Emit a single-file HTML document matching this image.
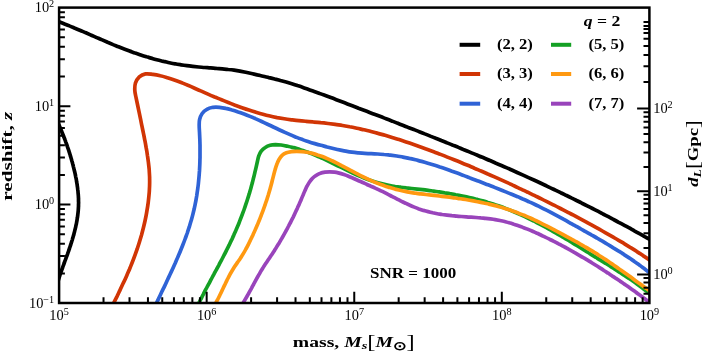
<!DOCTYPE html>
<html><head><meta charset="utf-8"><title>chart</title>
<style>html,body{margin:0;padding:0;background:#fff;}body{width:703px;height:352px;overflow:hidden;font-family:"Liberation Serif",serif;}svg{display:block;will-change:transform;}</style></head>
<body>
<svg width="703" height="352" viewBox="0 0 703 352">
<rect x="0" y="0" width="703" height="352" fill="#ffffff"/>
<defs><clipPath id="ax"><rect x="59.10" y="7.60" width="590.30" height="295.40"/></clipPath></defs>
<g clip-path="url(#ax)" fill="none" stroke-linecap="butt" stroke-linejoin="round">
<path d="M52.9,19.5C53.9,19.8 56.6,20.8 58.5,21.5C60.3,22.2 62.2,22.9 64.0,23.7C65.8,24.4 67.7,25.1 69.5,25.9C71.3,26.6 73.1,27.4 75.0,28.2C76.8,28.9 78.6,29.7 80.4,30.5C82.2,31.3 84.1,32.0 85.9,32.8C87.7,33.6 89.5,34.4 91.3,35.2C93.1,36.0 94.9,36.8 96.7,37.6C98.6,38.4 100.4,39.2 102.2,39.9C104.0,40.7 105.8,41.5 107.6,42.3C109.5,43.0 111.3,43.8 113.1,44.6C114.9,45.3 116.8,46.1 118.6,46.8C120.4,47.6 122.3,48.3 124.1,49.0C125.9,49.7 127.8,50.4 129.6,51.1C131.5,51.8 133.4,52.4 135.2,53.1C137.1,53.7 139.0,54.4 140.8,55.0C142.7,55.6 144.6,56.2 146.5,56.8C148.4,57.3 150.3,57.9 152.2,58.4C154.1,59.0 156.0,59.5 157.9,60.0C159.8,60.5 161.7,60.9 163.6,61.4C165.5,61.8 167.5,62.3 169.4,62.7C171.3,63.1 173.2,63.5 175.2,63.8C177.1,64.2 179.1,64.5 181.0,64.8C183.0,65.1 184.9,65.4 186.9,65.7C188.8,66.0 190.8,66.2 192.8,66.4C194.7,66.6 196.7,66.8 198.7,67.0C200.6,67.2 202.6,67.3 204.6,67.5C206.5,67.6 208.5,67.8 210.5,67.9C212.5,68.1 214.4,68.2 216.4,68.4C218.4,68.5 220.4,68.7 222.3,68.9C224.3,69.1 226.3,69.2 228.2,69.5C230.2,69.7 232.1,69.9 234.1,70.2C236.1,70.5 238.0,70.8 239.9,71.1C241.9,71.5 243.8,71.9 245.7,72.3C247.7,72.7 249.6,73.1 251.5,73.5C253.5,74.0 255.4,74.4 257.3,74.9C259.2,75.3 261.2,75.8 263.1,76.2C265.0,76.7 266.9,77.1 268.9,77.6C270.8,78.0 272.7,78.5 274.6,79.0C276.6,79.5 278.5,79.9 280.4,80.5C282.3,81.0 284.2,81.5 286.1,82.0C288.0,82.6 289.9,83.2 291.8,83.7C293.7,84.3 295.5,84.9 297.4,85.6C299.3,86.2 301.2,86.8 303.0,87.4C304.9,88.1 306.7,88.7 308.6,89.4C310.5,90.1 312.3,90.7 314.2,91.4C316.0,92.1 317.9,92.8 319.7,93.5C321.6,94.1 323.4,94.8 325.3,95.5C327.1,96.2 329.0,96.9 330.8,97.6C332.7,98.3 334.5,99.0 336.3,99.7C338.2,100.4 340.0,101.1 341.9,101.8C343.7,102.5 345.6,103.2 347.4,103.9C349.3,104.6 351.1,105.3 353.0,106.0C354.8,106.7 356.7,107.4 358.5,108.2C360.3,108.9 362.2,109.6 364.0,110.3C365.9,111.0 367.7,111.7 369.6,112.4C371.4,113.1 373.2,113.8 375.1,114.5C376.9,115.2 378.8,115.9 380.6,116.6C382.5,117.3 384.3,118.1 386.1,118.8C388.0,119.5 389.8,120.2 391.7,120.9C393.5,121.6 395.4,122.3 397.2,123.1C399.0,123.8 400.9,124.5 402.7,125.2C404.6,125.9 406.4,126.6 408.2,127.4C410.1,128.1 411.9,128.8 413.8,129.5C415.6,130.2 417.4,131.0 419.3,131.7C421.1,132.4 422.9,133.1 424.8,133.9C426.6,134.6 428.4,135.3 430.3,136.1C432.1,136.8 433.9,137.5 435.8,138.3C437.6,139.0 439.5,139.7 441.3,140.5C443.1,141.2 444.9,141.9 446.8,142.7C448.6,143.4 450.4,144.2 452.3,144.9C454.1,145.6 455.9,146.4 457.8,147.1C459.6,147.9 461.4,148.6 463.2,149.4C465.1,150.1 466.9,150.9 468.7,151.6C470.5,152.4 472.4,153.2 474.2,153.9C476.0,154.7 477.8,155.4 479.6,156.2C481.5,157.0 483.3,157.7 485.1,158.5C486.9,159.3 488.7,160.1 490.6,160.8C492.4,161.6 494.2,162.4 496.0,163.2C497.8,163.9 499.6,164.7 501.4,165.5C503.2,166.3 505.1,167.1 506.9,167.9C508.7,168.7 510.5,169.5 512.3,170.3C514.1,171.1 515.9,171.9 517.7,172.7C519.5,173.5 521.3,174.3 523.1,175.1C524.9,175.9 526.7,176.8 528.5,177.6C530.3,178.4 532.1,179.2 533.9,180.0C535.7,180.9 537.5,181.7 539.3,182.5C541.0,183.4 542.8,184.2 544.6,185.0C546.4,185.9 548.2,186.7 550.0,187.6C551.8,188.4 553.6,189.3 555.3,190.1C557.1,191.0 558.9,191.8 560.7,192.7C562.5,193.5 564.2,194.4 566.0,195.3C567.8,196.1 569.6,197.0 571.3,197.9C573.1,198.7 574.9,199.6 576.6,200.5C578.4,201.4 580.2,202.3 581.9,203.2C583.7,204.0 585.5,204.9 587.2,205.8C589.0,206.7 590.7,207.6 592.5,208.5C594.3,209.4 596.0,210.3 597.8,211.2C599.5,212.1 601.3,213.0 603.0,214.0C604.8,214.9 606.5,215.8 608.3,216.7C610.0,217.6 611.8,218.5 613.5,219.5C615.3,220.4 617.0,221.3 618.7,222.3C620.5,223.2 622.2,224.1 624.0,225.1C625.7,226.0 627.4,227.0 629.2,227.9C630.9,228.9 632.6,229.8 634.3,230.8C636.1,231.7 637.8,232.7 639.5,233.7C641.2,234.6 643.0,235.6 644.7,236.6C646.4,237.5 648.1,238.5 649.8,239.5C651.5,240.5 654.1,242.0 655.0,242.4" stroke="#000000" stroke-width="3.70"/>
<path d="M54.5,114.5C54.6,114.8 55.0,115.5 55.2,116.0C55.4,116.5 55.6,117.0 55.9,117.5C56.1,118.0 56.3,118.5 56.5,119.0C56.7,119.5 57.0,120.0 57.2,120.5C57.4,121.0 57.6,121.5 57.8,122.0C58.0,122.5 58.3,123.0 58.5,123.5C58.7,124.1 58.9,124.6 59.1,125.1C59.3,125.6 59.5,126.1 59.7,126.6C60.0,127.1 60.2,127.6 60.4,128.1C60.6,128.6 60.8,129.1 61.0,129.6C61.2,130.1 61.4,130.6 61.6,131.1C61.8,131.7 62.0,132.2 62.2,132.7C62.4,133.2 62.6,133.7 62.8,134.2C63.0,134.7 63.2,135.2 63.4,135.7C63.6,136.2 63.8,136.8 64.0,137.3C64.2,137.8 64.4,138.3 64.6,138.8C64.8,139.3 65.0,139.8 65.2,140.4C65.4,140.9 65.6,141.4 65.7,141.9C65.9,142.4 66.1,142.9 66.3,143.5C66.5,144.0 66.7,144.5 66.9,145.0C67.0,145.5 67.2,146.0 67.4,146.6C67.6,147.1 67.8,147.6 67.9,148.1C68.1,148.6 68.3,149.2 68.5,149.7C68.6,150.2 68.8,150.7 69.0,151.2C69.1,151.8 69.3,152.3 69.5,152.8C69.6,153.3 69.8,153.9 70.0,154.4C70.1,154.9 70.3,155.4 70.4,156.0C70.6,156.5 70.8,157.0 70.9,157.5C71.1,158.1 71.2,158.6 71.4,159.1C71.5,159.7 71.7,160.2 71.8,160.7C72.0,161.2 72.1,161.8 72.3,162.3C72.4,162.8 72.6,163.4 72.7,163.9C72.9,164.4 73.0,165.0 73.1,165.5C73.3,166.0 73.4,166.6 73.5,167.1C73.7,167.6 73.8,168.2 73.9,168.7C74.1,169.2 74.2,169.8 74.3,170.3C74.4,170.8 74.6,171.4 74.7,171.9C74.8,172.5 74.9,173.0 75.1,173.5C75.2,174.1 75.3,174.6 75.4,175.2C75.5,175.7 75.6,176.2 75.7,176.8C75.8,177.3 75.9,177.9 76.1,178.4C76.2,179.0 76.3,179.5 76.4,180.0C76.5,180.6 76.5,181.1 76.6,181.7C76.7,182.2 76.8,182.8 76.9,183.3C77.0,183.9 77.1,184.4 77.2,185.0C77.2,185.5 77.3,186.1 77.4,186.6C77.5,187.2 77.5,187.7 77.6,188.2C77.7,188.8 77.7,189.3 77.8,189.9C77.9,190.4 77.9,191.0 78.0,191.5C78.0,192.1 78.1,192.6 78.1,193.2C78.2,193.7 78.2,194.3 78.3,194.8C78.3,195.4 78.3,195.9 78.4,196.5C78.4,197.0 78.4,197.6 78.5,198.1C78.5,198.7 78.5,199.2 78.5,199.8C78.5,200.3 78.5,200.9 78.5,201.4C78.6,201.9 78.6,202.5 78.6,203.0C78.5,203.6 78.5,204.1 78.5,204.7C78.5,205.2 78.5,205.8 78.5,206.3C78.5,206.9 78.4,207.4 78.4,207.9C78.4,208.5 78.3,209.0 78.3,209.6C78.3,210.1 78.2,210.7 78.2,211.2C78.1,211.7 78.1,212.3 78.0,212.8C78.0,213.4 77.9,213.9 77.8,214.4C77.8,215.0 77.7,215.5 77.6,216.1C77.6,216.6 77.5,217.1 77.4,217.7C77.3,218.2 77.2,218.8 77.1,219.3C77.1,219.8 77.0,220.4 76.9,220.9C76.8,221.4 76.7,222.0 76.6,222.5C76.5,223.1 76.4,223.6 76.3,224.1C76.2,224.7 76.0,225.2 75.9,225.7C75.8,226.3 75.7,226.8 75.6,227.3C75.5,227.9 75.3,228.4 75.2,228.9C75.1,229.5 74.9,230.0 74.8,230.5C74.7,231.1 74.6,231.6 74.4,232.1C74.3,232.7 74.1,233.2 74.0,233.7C73.9,234.3 73.7,234.8 73.6,235.3C73.4,235.8 73.3,236.4 73.1,236.9C73.0,237.4 72.8,238.0 72.6,238.5C72.5,239.0 72.3,239.5 72.2,240.1C72.0,240.6 71.8,241.1 71.7,241.6C71.5,242.2 71.4,242.7 71.2,243.2C71.0,243.8 70.8,244.3 70.7,244.8C70.5,245.3 70.3,245.9 70.2,246.4C70.0,246.9 69.8,247.4 69.6,247.9C69.5,248.5 69.3,249.0 69.1,249.5C68.9,250.0 68.7,250.6 68.6,251.1C68.4,251.6 68.2,252.1 68.0,252.6C67.8,253.2 67.6,253.7 67.5,254.2C67.3,254.7 67.1,255.2 66.9,255.8C66.7,256.3 66.5,256.8 66.3,257.3C66.1,257.8 66.0,258.4 65.8,258.9C65.6,259.4 65.4,259.9 65.2,260.4C65.0,260.9 64.8,261.5 64.6,262.0C64.4,262.5 64.2,263.0 64.1,263.5C63.9,264.0 63.7,264.6 63.5,265.1C63.3,265.6 63.1,266.1 62.9,266.6C62.7,267.1 62.6,267.7 62.4,268.2C62.2,268.7 62.0,269.2 61.8,269.7C61.6,270.2 61.4,270.8 61.3,271.3C61.1,271.8 60.9,272.3 60.7,272.8C60.5,273.4 60.4,273.9 60.2,274.4C60.0,274.9 59.8,275.4 59.7,275.9C59.5,276.5 59.3,277.0 59.2,277.5C59.0,278.0 58.8,278.5 58.7,279.1C58.5,279.6 58.4,280.1 58.2,280.6C58.0,281.2 57.9,281.7 57.7,282.2C57.6,282.7 57.4,283.3 57.3,283.8C57.2,284.3 57.0,284.8 56.9,285.4C56.7,285.9 56.5,286.7 56.5,286.9" stroke="#000000" stroke-width="3.70"/>
<path d="M110.8,309.0C111.4,307.9 113.0,304.6 114.0,302.4C115.1,300.2 116.2,298.0 117.3,295.8C118.3,293.6 119.4,291.4 120.4,289.2C121.5,287.0 122.5,284.8 123.5,282.6C124.6,280.4 125.6,278.2 126.6,275.9C127.5,273.7 128.5,271.5 129.5,269.2C130.4,267.0 131.3,264.7 132.2,262.5C133.1,260.2 134.0,257.9 134.8,255.6C135.7,253.3 136.5,251.0 137.3,248.7C138.0,246.4 138.8,244.1 139.5,241.8C140.2,239.4 140.9,237.1 141.6,234.8C142.2,232.4 142.8,230.0 143.4,227.7C144.0,225.3 144.6,222.9 145.1,220.5C145.6,218.2 146.1,215.8 146.5,213.4C146.9,211.0 147.3,208.6 147.7,206.1C148.1,203.7 148.4,201.3 148.6,198.9C148.9,196.5 149.1,194.0 149.3,191.6C149.4,189.2 149.6,186.7 149.6,184.3C149.7,181.9 149.6,179.4 149.6,177.0C149.5,174.6 149.3,172.2 149.2,169.7C149.0,167.3 148.7,164.9 148.4,162.4C148.1,160.0 147.8,157.6 147.4,155.2C147.1,152.8 146.7,150.4 146.2,147.9C145.8,145.5 145.4,143.1 144.9,140.7C144.4,138.3 144.0,135.9 143.5,133.6C143.0,131.2 142.5,128.8 142.0,126.4C141.5,124.0 141.0,121.7 140.6,119.3C140.1,116.9 139.6,114.5 139.1,112.2C138.6,109.8 138.1,107.4 137.6,105.0C137.1,102.6 136.6,100.2 136.1,97.8C135.6,95.3 134.9,92.9 134.8,90.4C134.7,88.0 134.7,85.4 135.4,83.2C136.2,80.9 137.6,78.5 139.3,76.9C141.0,75.4 143.3,74.3 145.5,73.9C147.8,73.5 150.5,74.1 152.9,74.4C155.4,74.7 157.9,75.2 160.3,75.8C162.7,76.3 165.0,77.0 167.4,77.7C169.7,78.4 172.0,79.1 174.3,79.9C176.6,80.7 178.9,81.6 181.2,82.5C183.4,83.4 185.7,84.3 187.9,85.3C190.1,86.2 192.4,87.2 194.6,88.2C196.8,89.2 199.0,90.2 201.3,91.1C203.5,92.1 205.7,93.1 208.0,94.1C210.2,95.0 212.5,96.0 214.7,97.0C217.0,97.9 219.2,98.9 221.5,99.8C223.7,100.7 226.0,101.6 228.3,102.5C230.5,103.4 232.8,104.3 235.1,105.2C237.4,106.0 239.7,106.9 242.0,107.7C244.3,108.5 246.6,109.3 248.9,110.0C251.2,110.8 253.5,111.5 255.9,112.2C258.2,112.9 260.5,113.6 262.9,114.2C265.2,114.9 267.6,115.5 270.0,116.0C272.3,116.6 274.7,117.1 277.1,117.6C279.5,118.0 281.9,118.4 284.3,118.8C286.7,119.2 289.1,119.5 291.5,119.8C294.0,120.1 296.4,120.4 298.8,120.6C301.2,120.9 303.7,121.1 306.1,121.3C308.5,121.6 311.0,121.8 313.4,122.0C315.8,122.2 318.3,122.4 320.7,122.7C323.1,122.9 325.6,123.2 328.0,123.5C330.4,123.8 332.8,124.1 335.2,124.4C337.7,124.8 340.1,125.1 342.5,125.5C344.9,125.9 347.3,126.3 349.7,126.8C352.0,127.2 354.4,127.7 356.8,128.2C359.2,128.7 361.6,129.3 363.9,129.8C366.3,130.4 368.7,130.9 371.0,131.5C373.4,132.1 375.7,132.7 378.1,133.4C380.4,134.0 382.8,134.7 385.1,135.3C387.5,136.0 389.8,136.7 392.1,137.4C394.5,138.1 396.8,138.9 399.1,139.6C401.4,140.4 403.8,141.1 406.1,141.9C408.4,142.7 410.7,143.5 413.0,144.3C415.3,145.1 417.6,145.9 419.9,146.7C422.2,147.5 424.5,148.4 426.8,149.2C429.1,150.1 431.4,150.9 433.7,151.8C435.9,152.7 438.2,153.5 440.5,154.4C442.8,155.3 445.1,156.2 447.3,157.1C449.6,158.0 451.9,158.9 454.1,159.8C456.4,160.7 458.7,161.6 460.9,162.5C463.2,163.5 465.4,164.4 467.7,165.3C469.9,166.3 472.2,167.2 474.4,168.2C476.7,169.1 478.9,170.1 481.1,171.0C483.4,172.0 485.6,173.0 487.8,174.0C490.1,174.9 492.3,175.9 494.5,176.9C496.8,177.9 499.0,178.9 501.2,179.9C503.4,180.9 505.6,181.9 507.9,182.9C510.1,183.9 512.3,185.0 514.5,186.0C516.7,187.0 518.9,188.1 521.1,189.1C523.3,190.1 525.5,191.2 527.7,192.2C529.9,193.3 532.1,194.3 534.3,195.4C536.5,196.5 538.7,197.5 540.9,198.6C543.0,199.7 545.2,200.8 547.4,201.9C549.6,203.0 551.8,204.1 554.0,205.2C556.1,206.3 558.3,207.4 560.5,208.5C562.6,209.6 564.8,210.7 567.0,211.8C569.1,212.9 571.3,214.1 573.5,215.2C575.6,216.3 577.8,217.5 579.9,218.6C582.1,219.8 584.2,220.9 586.4,222.1C588.5,223.3 590.7,224.4 592.8,225.6C595.0,226.8 597.1,228.0 599.2,229.2C601.3,230.4 603.5,231.6 605.6,232.8C607.7,234.0 609.8,235.2 611.9,236.4C614.0,237.6 616.1,238.9 618.2,240.1C620.3,241.3 622.4,242.6 624.5,243.8C626.6,245.1 628.7,246.4 630.7,247.7C632.8,248.9 634.9,250.2 636.9,251.6C639.0,252.9 641.0,254.2 643.0,255.6C645.0,256.9 647.1,258.3 649.1,259.7C651.1,261.1 654.0,263.3 655.0,264.0" stroke="#d13505" stroke-width="3.70"/>
<path d="M153.7,308.9C154.1,308.0 155.5,305.1 156.4,303.2C157.3,301.4 158.2,299.5 159.1,297.6C160.0,295.7 160.9,293.7 161.8,291.8C162.7,289.9 163.7,288.0 164.6,286.1C165.5,284.2 166.4,282.2 167.3,280.3C168.2,278.4 169.1,276.4 170.0,274.5C170.9,272.6 171.8,270.6 172.7,268.7C173.6,266.7 174.5,264.8 175.4,262.8C176.2,260.8 177.1,258.9 177.9,256.9C178.8,254.9 179.6,253.0 180.4,251.0C181.2,249.0 182.0,247.0 182.8,245.0C183.6,243.0 184.4,241.0 185.1,239.0C185.8,237.0 186.6,235.0 187.3,233.0C187.9,230.9 188.6,228.9 189.3,226.9C189.9,224.9 190.5,222.8 191.1,220.8C191.7,218.7 192.3,216.7 192.8,214.6C193.3,212.6 193.8,210.5 194.3,208.5C194.7,206.4 195.2,204.3 195.6,202.2C196.0,200.2 196.3,198.1 196.7,196.0C197.0,193.9 197.3,191.8 197.6,189.7C197.9,187.6 198.2,185.5 198.4,183.4C198.6,181.3 198.8,179.1 199.0,177.0C199.2,174.9 199.3,172.8 199.5,170.7C199.6,168.5 199.7,166.4 199.8,164.3C199.9,162.1 199.9,160.0 200.0,157.9C200.0,155.7 200.0,153.6 200.0,151.5C200.0,149.3 200.0,147.2 200.0,145.0C199.9,142.9 199.9,140.7 199.8,138.6C199.7,136.4 199.6,134.3 199.5,132.1C199.4,130.0 199.2,127.8 199.2,125.7C199.2,123.6 199.1,121.4 199.6,119.5C200.1,117.5 200.8,115.4 202.0,113.7C203.2,112.0 205.0,110.3 206.9,109.3C208.7,108.2 210.9,107.7 213.0,107.3C215.1,107.0 217.3,107.1 219.5,107.3C221.6,107.5 223.7,107.9 225.8,108.4C227.9,108.8 229.9,109.4 232.0,110.0C234.0,110.5 236.1,111.2 238.1,111.9C240.1,112.5 242.1,113.3 244.1,114.0C246.1,114.8 248.0,115.6 250.0,116.4C252.0,117.2 253.9,118.0 255.9,118.9C257.8,119.7 259.8,120.6 261.7,121.5C263.6,122.4 265.6,123.3 267.5,124.2C269.4,125.1 271.3,126.0 273.3,127.0C275.2,127.9 277.1,128.8 279.1,129.7C281.0,130.6 282.9,131.5 284.9,132.4C286.8,133.2 288.8,134.1 290.7,134.9C292.7,135.8 294.7,136.6 296.6,137.4C298.6,138.2 300.6,138.9 302.6,139.6C304.6,140.4 306.6,141.0 308.7,141.7C310.7,142.4 312.7,143.0 314.8,143.6C316.8,144.2 318.9,144.8 320.9,145.3C323.0,145.9 325.0,146.4 327.1,147.0C329.1,147.5 331.2,148.0 333.3,148.5C335.4,149.0 337.4,149.5 339.5,149.9C341.6,150.3 343.7,150.8 345.7,151.1C347.8,151.5 349.9,151.9 352.0,152.2C354.1,152.5 356.3,152.7 358.4,152.9C360.5,153.1 362.6,153.3 364.8,153.4C366.9,153.5 369.1,153.6 371.2,153.7C373.4,153.8 375.5,153.9 377.7,154.0C379.8,154.1 382.0,154.3 384.1,154.5C386.2,154.6 388.3,154.9 390.4,155.1C392.6,155.4 394.7,155.7 396.8,156.0C398.9,156.4 400.9,156.7 403.0,157.1C405.1,157.5 407.2,157.9 409.3,158.4C411.3,158.8 413.4,159.3 415.5,159.8C417.5,160.3 419.6,160.9 421.6,161.4C423.7,162.0 425.7,162.6 427.8,163.2C429.8,163.8 431.8,164.4 433.9,165.0C435.9,165.6 437.9,166.3 439.9,167.0C442.0,167.6 444.0,168.3 446.0,169.0C448.0,169.7 450.0,170.4 452.0,171.2C454.0,171.9 456.0,172.6 458.0,173.3C460.0,174.1 462.0,174.8 464.0,175.6C466.0,176.4 468.0,177.1 470.0,177.9C472.0,178.6 474.0,179.4 476.0,180.2C478.0,181.0 480.0,181.7 482.0,182.5C484.0,183.3 486.0,184.0 488.0,184.8C489.9,185.6 491.9,186.4 493.9,187.1C495.9,187.9 497.9,188.7 499.9,189.5C501.8,190.3 503.8,191.1 505.8,191.9C507.8,192.7 509.7,193.5 511.7,194.3C513.7,195.1 515.6,195.9 517.6,196.7C519.5,197.6 521.5,198.4 523.4,199.3C525.4,200.1 527.3,201.0 529.3,201.9C531.2,202.7 533.1,203.6 535.0,204.5C537.0,205.4 538.9,206.4 540.8,207.3C542.7,208.2 544.6,209.2 546.5,210.2C548.4,211.1 550.3,212.1 552.2,213.1C554.0,214.1 555.9,215.1 557.8,216.1C559.7,217.1 561.5,218.1 563.4,219.2C565.3,220.2 567.1,221.2 569.0,222.3C570.9,223.3 572.7,224.4 574.6,225.4C576.5,226.4 578.3,227.5 580.2,228.5C582.0,229.6 583.9,230.6 585.7,231.7C587.6,232.7 589.5,233.8 591.3,234.8C593.2,235.9 595.0,237.0 596.9,238.0C598.7,239.1 600.5,240.2 602.4,241.2C604.2,242.3 606.0,243.4 607.9,244.5C609.7,245.6 611.5,246.7 613.3,247.8C615.2,248.9 617.0,250.0 618.8,251.2C620.6,252.3 622.4,253.4 624.1,254.6C625.9,255.8 627.7,256.9 629.5,258.1C631.2,259.3 633.0,260.5 634.7,261.7C636.5,262.9 638.2,264.2 639.9,265.4C641.6,266.7 643.4,268.0 645.0,269.2C646.7,270.5 648.4,271.8 650.1,273.2C651.8,274.5 654.2,276.6 655.1,277.3" stroke="#2f63d6" stroke-width="3.70"/>
<path d="M196.1,309.1C196.5,308.2 197.6,305.7 198.4,304.0C199.2,302.4 200.0,300.7 200.9,299.1C201.7,297.4 202.5,295.8 203.4,294.1C204.2,292.5 205.0,290.8 205.9,289.2C206.8,287.6 207.6,285.9 208.5,284.3C209.4,282.7 210.2,281.1 211.1,279.4C212.0,277.8 212.8,276.2 213.7,274.6C214.6,272.9 215.5,271.3 216.4,269.7C217.2,268.1 218.1,266.5 219.0,264.8C219.8,263.2 220.7,261.6 221.6,259.9C222.4,258.3 223.3,256.7 224.1,255.0C225.0,253.4 225.8,251.8 226.6,250.1C227.5,248.5 228.3,246.8 229.1,245.2C229.9,243.5 230.7,241.8 231.5,240.2C232.3,238.5 233.0,236.8 233.8,235.1C234.5,233.5 235.3,231.8 236.0,230.1C236.7,228.4 237.5,226.7 238.2,225.0C238.9,223.3 239.5,221.6 240.2,219.8C240.9,218.1 241.6,216.4 242.2,214.7C242.8,212.9 243.5,211.2 244.1,209.5C244.7,207.7 245.3,206.0 245.9,204.2C246.5,202.5 247.1,200.7 247.6,199.0C248.2,197.2 248.7,195.5 249.3,193.7C249.8,191.9 250.3,190.2 250.8,188.4C251.3,186.6 251.8,184.8 252.3,183.1C252.7,181.3 253.2,179.5 253.6,177.7C254.1,175.9 254.5,174.1 254.9,172.3C255.4,170.5 255.8,168.7 256.2,166.9C256.6,165.1 257.0,163.3 257.4,161.5C257.8,159.7 258.1,157.8 258.7,156.1C259.3,154.4 260.1,152.7 261.2,151.2C262.3,149.8 263.7,148.5 265.3,147.5C266.8,146.5 268.5,145.8 270.2,145.3C272.0,144.8 273.8,144.7 275.6,144.6C277.4,144.6 279.3,144.8 281.2,145.0C283.1,145.3 285.0,145.7 286.8,146.1C288.6,146.5 290.5,146.9 292.3,147.4C294.1,147.8 295.9,148.3 297.6,148.8C299.4,149.4 301.1,149.9 302.9,150.5C304.6,151.1 306.3,151.7 308.0,152.3C309.7,153.0 311.4,153.6 313.1,154.3C314.8,155.0 316.5,155.7 318.2,156.5C319.8,157.2 321.5,157.9 323.2,158.7C324.8,159.5 326.5,160.3 328.2,161.1C329.9,161.9 331.5,162.7 333.2,163.5C334.9,164.3 336.5,165.2 338.2,166.0C339.9,166.8 341.5,167.6 343.2,168.4C344.9,169.3 346.5,170.1 348.2,170.9C349.9,171.7 351.6,172.5 353.3,173.3C355.0,174.0 356.6,174.8 358.3,175.6C360.0,176.3 361.7,177.0 363.5,177.7C365.2,178.4 366.9,179.1 368.6,179.7C370.3,180.3 372.1,181.0 373.8,181.5C375.6,182.1 377.3,182.6 379.1,183.1C380.8,183.6 382.6,184.0 384.4,184.4C386.2,184.8 388.0,185.2 389.8,185.5C391.6,185.9 393.4,186.2 395.2,186.5C397.0,186.7 398.8,187.0 400.7,187.2C402.5,187.5 404.3,187.7 406.2,187.9C408.0,188.1 409.8,188.3 411.7,188.5C413.5,188.7 415.3,188.9 417.2,189.1C419.0,189.3 420.9,189.5 422.7,189.7C424.6,190.0 426.4,190.2 428.2,190.4C430.1,190.6 431.9,190.9 433.7,191.1C435.6,191.4 437.4,191.6 439.2,191.9C441.1,192.2 442.9,192.5 444.7,192.8C446.6,193.0 448.4,193.4 450.2,193.7C452.0,194.0 453.9,194.3 455.7,194.7C457.5,195.0 459.3,195.3 461.1,195.7C462.9,196.1 464.7,196.5 466.5,196.9C468.3,197.3 470.1,197.7 471.9,198.1C473.7,198.5 475.5,199.0 477.3,199.4C479.0,199.9 480.8,200.4 482.6,200.8C484.4,201.3 486.1,201.8 487.9,202.4C489.6,202.9 491.4,203.4 493.1,204.0C494.9,204.6 496.6,205.2 498.4,205.8C500.1,206.4 501.8,207.0 503.5,207.6C505.3,208.3 507.0,208.9 508.7,209.6C510.4,210.3 512.1,211.0 513.8,211.7C515.5,212.4 517.1,213.2 518.8,213.9C520.5,214.7 522.2,215.4 523.8,216.2C525.5,217.0 527.2,217.8 528.8,218.6C530.5,219.4 532.1,220.2 533.8,221.0C535.4,221.9 537.1,222.7 538.7,223.6C540.3,224.4 542.0,225.3 543.6,226.2C545.2,227.1 546.8,228.0 548.5,228.9C550.1,229.8 551.7,230.7 553.3,231.6C554.9,232.5 556.5,233.4 558.1,234.4C559.7,235.3 561.3,236.2 562.9,237.2C564.5,238.1 566.1,239.1 567.7,240.0C569.3,241.0 570.9,241.9 572.5,242.9C574.1,243.9 575.6,244.8 577.2,245.8C578.8,246.8 580.4,247.8 581.9,248.7C583.5,249.7 585.1,250.7 586.7,251.7C588.2,252.6 589.8,253.6 591.4,254.6C592.9,255.6 594.5,256.5 596.1,257.5C597.7,258.5 599.2,259.5 600.8,260.4C602.3,261.4 603.9,262.4 605.5,263.3C607.0,264.3 608.6,265.3 610.2,266.2C611.7,267.2 613.3,268.2 614.8,269.2C616.4,270.1 617.9,271.1 619.4,272.1C621.0,273.1 622.5,274.1 624.1,275.1C625.6,276.1 627.1,277.1 628.6,278.2C630.1,279.2 631.7,280.2 633.2,281.3C634.7,282.3 636.2,283.4 637.6,284.5C639.1,285.6 640.6,286.7 642.1,287.8C643.6,288.9 645.0,290.1 646.5,291.2C647.9,292.4 649.3,293.6 650.8,294.8C652.2,296.0 654.3,297.9 655.0,298.5" stroke="#14a024" stroke-width="3.70"/>
<path d="M212.4,309.0C212.9,308.2 214.2,305.9 215.1,304.4C215.9,302.9 216.8,301.3 217.6,299.7C218.4,298.1 219.2,296.6 219.9,295.0C220.7,293.4 221.5,291.8 222.2,290.2C223.0,288.6 223.7,287.0 224.5,285.4C225.3,283.8 226.0,282.2 226.8,280.6C227.6,279.0 228.4,277.5 229.2,275.9C230.0,274.3 230.9,272.8 231.8,271.3C232.7,269.8 233.6,268.3 234.5,266.8C235.5,265.3 236.5,263.9 237.5,262.4C238.5,261.0 239.6,259.6 240.5,258.1C241.5,256.6 242.4,255.1 243.3,253.6C244.2,252.1 245.1,250.6 245.9,249.0C246.8,247.4 247.6,245.9 248.4,244.3C249.2,242.7 250.0,241.1 250.7,239.5C251.5,238.0 252.2,236.4 253.0,234.8C253.7,233.2 254.5,231.6 255.2,229.9C255.9,228.3 256.6,226.7 257.3,225.1C258.0,223.5 258.6,221.8 259.3,220.2C260.0,218.6 260.6,216.9 261.2,215.3C261.9,213.7 262.5,212.0 263.1,210.4C263.7,208.7 264.3,207.0 264.9,205.4C265.4,203.7 266.0,202.1 266.6,200.4C267.1,198.7 267.6,197.0 268.2,195.3C268.7,193.7 269.2,192.0 269.7,190.3C270.2,188.6 270.6,186.9 271.1,185.2C271.6,183.5 272.0,181.8 272.4,180.0C272.9,178.3 273.3,176.6 273.7,174.9C274.2,173.2 274.6,171.4 275.1,169.7C275.6,168.0 276.1,166.2 276.8,164.5C277.4,162.8 278.1,161.0 279.0,159.5C279.9,158.0 280.9,156.4 282.1,155.3C283.3,154.2 284.8,153.4 286.4,152.8C287.9,152.2 289.7,151.9 291.5,151.6C293.2,151.4 295.1,151.4 296.8,151.4C298.6,151.4 300.4,151.5 302.2,151.6C303.9,151.8 305.6,152.0 307.3,152.3C309.1,152.6 310.8,153.0 312.4,153.4C314.1,153.8 315.8,154.3 317.5,154.9C319.1,155.4 320.8,156.0 322.4,156.6C324.0,157.2 325.7,157.9 327.3,158.6C328.9,159.3 330.5,160.0 332.1,160.8C333.7,161.5 335.3,162.3 336.9,163.1C338.5,163.9 340.1,164.7 341.6,165.6C343.2,166.4 344.8,167.3 346.4,168.1C348.0,168.9 349.5,169.8 351.1,170.6C352.7,171.5 354.3,172.3 355.9,173.2C357.5,174.0 359.0,174.8 360.6,175.6C362.2,176.4 363.8,177.2 365.4,177.9C367.0,178.7 368.6,179.4 370.2,180.1C371.9,180.9 373.5,181.6 375.1,182.2C376.7,182.9 378.4,183.5 380.0,184.2C381.6,184.8 383.3,185.4 384.9,186.0C386.6,186.5 388.3,187.1 389.9,187.6C391.6,188.1 393.3,188.6 395.0,189.1C396.6,189.5 398.3,189.9 400.0,190.3C401.7,190.7 403.4,191.1 405.2,191.4C406.9,191.8 408.6,192.1 410.3,192.4C412.1,192.7 413.8,192.9 415.6,193.2C417.3,193.4 419.1,193.7 420.8,193.9C422.6,194.1 424.3,194.3 426.1,194.5C427.8,194.7 429.6,194.9 431.4,195.1C433.1,195.3 434.9,195.5 436.7,195.7C438.4,195.9 440.2,196.1 441.9,196.3C443.7,196.5 445.5,196.7 447.2,196.9C449.0,197.2 450.7,197.4 452.5,197.6C454.2,197.9 456.0,198.1 457.8,198.4C459.5,198.6 461.3,198.9 463.0,199.1C464.7,199.4 466.5,199.7 468.2,200.0C470.0,200.3 471.7,200.6 473.4,200.9C475.2,201.2 476.9,201.6 478.6,201.9C480.4,202.2 482.1,202.6 483.8,203.0C485.5,203.4 487.2,203.7 488.9,204.1C490.7,204.6 492.4,205.0 494.1,205.4C495.8,205.8 497.5,206.3 499.1,206.8C500.8,207.2 502.5,207.7 504.2,208.2C505.9,208.8 507.5,209.3 509.2,209.8C510.9,210.4 512.5,210.9 514.2,211.5C515.9,212.1 517.5,212.7 519.1,213.4C520.8,214.0 522.4,214.7 524.1,215.3C525.7,216.0 527.3,216.7 528.9,217.4C530.5,218.1 532.1,218.9 533.8,219.6C535.4,220.4 537.0,221.1 538.6,221.9C540.2,222.7 541.7,223.5 543.3,224.3C544.9,225.1 546.5,225.9 548.1,226.7C549.6,227.5 551.2,228.3 552.8,229.1C554.4,230.0 555.9,230.8 557.5,231.6C559.0,232.5 560.6,233.3 562.2,234.1C563.7,235.0 565.3,235.8 566.8,236.7C568.4,237.5 569.9,238.3 571.5,239.2C573.0,240.0 574.5,240.9 576.1,241.7C577.6,242.6 579.1,243.5 580.7,244.3C582.2,245.2 583.7,246.1 585.2,247.0C586.7,247.8 588.3,248.7 589.8,249.6C591.3,250.5 592.8,251.4 594.3,252.4C595.8,253.3 597.3,254.2 598.8,255.2C600.2,256.1 601.7,257.0 603.2,258.0C604.7,259.0 606.2,259.9 607.6,260.9C609.1,261.9 610.5,262.9 612.0,263.9C613.5,264.9 614.9,265.9 616.4,266.9C617.8,267.9 619.3,268.9 620.7,269.9C622.2,271.0 623.6,272.0 625.0,273.0C626.5,274.1 627.9,275.1 629.3,276.1C630.8,277.2 632.2,278.2 633.6,279.2C635.1,280.3 636.5,281.3 637.9,282.4C639.3,283.4 640.8,284.4 642.2,285.5C643.6,286.5 645.0,287.5 646.5,288.6C647.9,289.6 649.3,290.6 650.7,291.7C652.2,292.7 654.3,294.2 655.0,294.7" stroke="#ff9911" stroke-width="3.70"/>
<path d="M239.5,309.0C239.9,308.3 241.2,306.2 242.0,304.9C242.8,303.5 243.7,302.1 244.5,300.7C245.3,299.3 246.1,297.9 246.9,296.5C247.7,295.1 248.5,293.7 249.2,292.3C250.0,290.9 250.8,289.5 251.6,288.1C252.3,286.7 253.1,285.2 253.8,283.8C254.6,282.4 255.4,281.0 256.1,279.6C256.9,278.2 257.7,276.8 258.5,275.4C259.3,274.0 260.1,272.6 260.9,271.2C261.7,269.8 262.6,268.4 263.4,267.1C264.3,265.7 265.2,264.4 266.1,263.0C267.0,261.7 267.9,260.3 268.8,259.0C269.7,257.7 270.6,256.3 271.5,255.0C272.4,253.6 273.3,252.3 274.2,250.9C275.0,249.6 275.9,248.2 276.7,246.8C277.6,245.5 278.4,244.1 279.3,242.7C280.1,241.3 280.9,240.0 281.7,238.6C282.5,237.2 283.3,235.8 284.1,234.4C284.9,233.0 285.7,231.6 286.4,230.2C287.2,228.8 287.9,227.3 288.7,225.9C289.4,224.5 290.2,223.1 290.9,221.6C291.6,220.2 292.3,218.8 293.1,217.3C293.8,215.9 294.5,214.4 295.1,213.0C295.8,211.5 296.5,210.0 297.2,208.6C297.9,207.1 298.5,205.6 299.2,204.1C299.8,202.7 300.5,201.2 301.1,199.7C301.7,198.2 302.3,196.7 303.0,195.2C303.6,193.7 304.2,192.2 304.9,190.7C305.6,189.2 306.2,187.7 307.0,186.2C307.8,184.8 308.6,183.3 309.5,182.0C310.4,180.7 311.4,179.4 312.5,178.2C313.6,177.1 314.8,176.1 316.2,175.3C317.5,174.5 318.9,173.8 320.4,173.3C321.9,172.7 323.4,172.4 325.0,172.1C326.5,171.9 328.1,171.8 329.7,171.8C331.3,171.8 332.9,171.9 334.5,172.1C336.0,172.3 337.6,172.7 339.2,173.1C340.7,173.5 342.3,174.0 343.9,174.5C345.4,175.0 347.0,175.6 348.5,176.3C350.0,176.9 351.6,177.6 353.1,178.2C354.6,178.9 356.1,179.6 357.6,180.3C359.1,181.0 360.6,181.6 362.1,182.3C363.6,183.0 365.1,183.6 366.5,184.2C368.0,184.9 369.4,185.5 370.9,186.2C372.3,186.8 373.7,187.4 375.2,188.1C376.6,188.7 378.1,189.4 379.5,190.1C380.9,190.8 382.4,191.5 383.8,192.2C385.2,192.9 386.6,193.6 388.1,194.4C389.5,195.1 391.0,195.9 392.4,196.6C393.8,197.3 395.3,198.1 396.7,198.8C398.2,199.6 399.6,200.3 401.1,201.1C402.5,201.8 404.0,202.5 405.5,203.2C406.9,203.9 408.4,204.6 409.9,205.2C411.4,205.9 412.8,206.5 414.3,207.1C415.8,207.7 417.3,208.3 418.9,208.9C420.4,209.4 421.9,209.9 423.4,210.4C425.0,210.8 426.5,211.2 428.1,211.6C429.6,212.0 431.2,212.4 432.7,212.8C434.3,213.1 435.9,213.4 437.4,213.7C439.0,214.0 440.6,214.2 442.2,214.5C443.8,214.7 445.4,214.9 447.0,215.1C448.6,215.3 450.2,215.5 451.8,215.7C453.4,215.8 455.0,216.0 456.6,216.1C458.2,216.3 459.8,216.4 461.5,216.5C463.1,216.6 464.7,216.7 466.3,216.8C467.9,217.0 469.5,217.1 471.1,217.2C472.8,217.3 474.4,217.4 476.0,217.5C477.6,217.6 479.2,217.7 480.8,217.9C482.4,218.0 484.0,218.2 485.6,218.3C487.2,218.5 488.8,218.7 490.4,218.9C492.0,219.1 493.6,219.3 495.2,219.6C496.7,219.9 498.3,220.2 499.9,220.5C501.5,220.8 503.0,221.1 504.6,221.5C506.1,221.9 507.7,222.3 509.2,222.8C510.8,223.2 512.3,223.7 513.8,224.2C515.4,224.6 516.9,225.2 518.4,225.7C519.9,226.2 521.5,226.8 523.0,227.4C524.5,227.9 526.0,228.5 527.5,229.1C529.0,229.8 530.5,230.4 532.0,231.0C533.4,231.7 534.9,232.3 536.4,233.0C537.9,233.6 539.3,234.3 540.8,235.0C542.3,235.7 543.7,236.4 545.2,237.1C546.7,237.8 548.1,238.5 549.5,239.2C551.0,239.9 552.4,240.6 553.9,241.4C555.3,242.1 556.7,242.8 558.2,243.6C559.6,244.3 561.0,245.1 562.4,245.8C563.9,246.6 565.3,247.4 566.7,248.1C568.1,248.9 569.5,249.7 570.9,250.5C572.3,251.3 573.7,252.1 575.1,252.8C576.5,253.6 577.9,254.5 579.3,255.3C580.7,256.1 582.1,256.9 583.4,257.7C584.8,258.5 586.2,259.4 587.6,260.2C588.9,261.0 590.3,261.9 591.7,262.7C593.1,263.6 594.4,264.4 595.8,265.3C597.1,266.1 598.5,267.0 599.9,267.9C601.2,268.7 602.6,269.6 603.9,270.5C605.3,271.3 606.6,272.2 608.0,273.1C609.3,274.0 610.7,274.9 612.0,275.8C613.4,276.6 614.7,277.5 616.0,278.4C617.4,279.3 618.7,280.2 620.0,281.1C621.4,282.0 622.7,282.9 624.0,283.9C625.4,284.8 626.7,285.7 628.0,286.6C629.3,287.5 630.7,288.5 632.0,289.4C633.3,290.3 634.6,291.3 635.9,292.2C637.2,293.2 638.5,294.1 639.8,295.1C641.1,296.0 642.4,297.0 643.7,298.0C645.0,298.9 646.2,299.9 647.5,300.9C648.8,301.9 650.0,302.9 651.3,303.9C652.5,305.0 654.4,306.5 655.0,307.0" stroke="#9944bb" stroke-width="3.70"/>
</g>
<path d="M103.52,303.00 V297.20 M129.51,303.00 V297.20 M147.95,303.00 V297.20 M162.25,303.00 V297.20 M173.94,303.00 V297.20 M183.82,303.00 V297.20 M192.37,303.00 V297.20 M199.92,303.00 V297.20 M206.67,303.00 V291.70 M251.10,303.00 V297.20 M277.09,303.00 V297.20 M295.52,303.00 V297.20 M309.83,303.00 V297.20 M321.51,303.00 V297.20 M331.39,303.00 V297.20 M339.95,303.00 V297.20 M347.50,303.00 V297.20 M354.25,303.00 V291.70 M398.67,303.00 V297.20 M424.66,303.00 V297.20 M443.10,303.00 V297.20 M457.40,303.00 V297.20 M469.09,303.00 V297.20 M478.97,303.00 V297.20 M487.52,303.00 V297.20 M495.07,303.00 V297.20 M501.82,303.00 V291.70 M546.25,303.00 V297.20 M572.24,303.00 V297.20 M590.67,303.00 V297.20 M604.98,303.00 V297.20 M616.66,303.00 V297.20 M626.54,303.00 V297.20 M635.10,303.00 V297.20 M642.65,303.00 V297.20 M59.10,273.43 H64.90 M59.10,256.09 H64.90 M59.10,243.79 H64.90 M59.10,234.24 H64.90 M59.10,226.45 H64.90 M59.10,219.85 H64.90 M59.10,214.14 H64.90 M59.10,209.11 H64.90 M59.10,204.60 H70.40 M59.10,174.96 H64.90 M59.10,157.62 H64.90 M59.10,145.32 H64.90 M59.10,135.77 H64.90 M59.10,127.98 H64.90 M59.10,121.38 H64.90 M59.10,115.67 H64.90 M59.10,110.64 H64.90 M59.10,106.13 H70.40 M59.10,76.49 H64.90 M59.10,59.15 H64.90 M59.10,46.85 H64.90 M59.10,37.30 H64.90 M59.10,29.51 H64.90 M59.10,22.91 H64.90 M59.10,17.20 H64.90 M59.10,12.17 H64.90 M649.40,293.79 H643.50 M649.40,287.71 H643.50 M649.40,282.49 H643.50 M649.40,277.92 H643.50 M649.40,274.50 H637.10 M649.40,247.90 H643.50 M649.40,233.26 H643.50 M649.40,223.07 H643.50 M649.40,215.26 H643.50 M649.40,208.91 H643.50 M649.40,203.56 H643.50 M649.40,198.93 H643.50 M649.40,194.85 H643.50 M649.40,191.19 H637.10 M649.40,166.98 H643.50 M649.40,152.57 H643.50 M649.40,142.21 H643.50 M649.40,134.09 H643.50 M649.40,127.40 H643.50 M649.40,121.70 H643.50 M649.40,116.74 H643.50 M649.40,112.34 H643.50 M649.40,108.39 H637.10 M649.40,81.99 H643.50 M649.40,66.24 H643.50 M649.40,54.93 H643.50 M649.40,46.10 H643.50 M649.40,38.83 H643.50 M649.40,33.00 H643.50 M649.40,29.10 H643.50 M649.40,25.90 H643.50 M649.40,22.00 H643.50" stroke="#000" stroke-width="2.00" fill="none"/>
<rect x="59.10" y="7.60" width="590.30" height="295.40" fill="none" stroke="#000" stroke-width="2.5"/>
<path d="M459.60,44.80 H480.20" stroke="#000000" stroke-width="4.00"/>
<path d="M459.60,74.00 H480.20" stroke="#d13505" stroke-width="4.00"/>
<path d="M459.60,103.70 H480.20" stroke="#2f63d6" stroke-width="4.00"/>
<path d="M551.00,44.80 H571.20" stroke="#14a024" stroke-width="4.00"/>
<path d="M551.00,74.00 H571.20" stroke="#ff9911" stroke-width="4.00"/>
<path d="M551.00,103.70 H571.20" stroke="#9944bb" stroke-width="4.00"/>
<text x="496.90" y="48.80" font-family="Liberation Serif, serif" font-size="14.20" font-weight="bold" font-style="normal" text-anchor="start" textLength="36.00" lengthAdjust="spacingAndGlyphs" >(2, 2)</text>
<text x="496.90" y="78.00" font-family="Liberation Serif, serif" font-size="14.20" font-weight="bold" font-style="normal" text-anchor="start" textLength="36.00" lengthAdjust="spacingAndGlyphs" >(3, 3)</text>
<text x="496.90" y="107.70" font-family="Liberation Serif, serif" font-size="14.20" font-weight="bold" font-style="normal" text-anchor="start" textLength="36.00" lengthAdjust="spacingAndGlyphs" >(4, 4)</text>
<text x="588.40" y="48.80" font-family="Liberation Serif, serif" font-size="14.20" font-weight="bold" font-style="normal" text-anchor="start" textLength="36.00" lengthAdjust="spacingAndGlyphs" >(5, 5)</text>
<text x="588.40" y="78.00" font-family="Liberation Serif, serif" font-size="14.20" font-weight="bold" font-style="normal" text-anchor="start" textLength="36.00" lengthAdjust="spacingAndGlyphs" >(6, 6)</text>
<text x="588.40" y="107.70" font-family="Liberation Serif, serif" font-size="14.20" font-weight="bold" font-style="normal" text-anchor="start" textLength="36.00" lengthAdjust="spacingAndGlyphs" >(7, 7)</text>
<text x="583.8" y="25.9" font-family="Liberation Serif, serif" font-size="14.2" font-weight="bold" textLength="36.6" lengthAdjust="spacingAndGlyphs"><tspan font-style="italic">q</tspan> = 2</text>
<text x="370.00" y="277.60" font-family="Liberation Serif, serif" font-size="14.20" font-weight="bold" font-style="normal" text-anchor="start" textLength="86.30" lengthAdjust="spacingAndGlyphs" >SNR = 1000</text>
<text x="59.10" y="319.60" font-family="Liberation Serif, serif" font-size="14.4" text-anchor="middle">10<tspan font-size="10.2" dy="-5.0">5</tspan></text>
<text x="206.67" y="319.60" font-family="Liberation Serif, serif" font-size="14.4" text-anchor="middle">10<tspan font-size="10.2" dy="-5.0">6</tspan></text>
<text x="354.25" y="319.60" font-family="Liberation Serif, serif" font-size="14.4" text-anchor="middle">10<tspan font-size="10.2" dy="-5.0">7</tspan></text>
<text x="501.82" y="319.60" font-family="Liberation Serif, serif" font-size="14.4" text-anchor="middle">10<tspan font-size="10.2" dy="-5.0">8</tspan></text>
<text x="649.40" y="319.60" font-family="Liberation Serif, serif" font-size="14.4" text-anchor="middle">10<tspan font-size="10.2" dy="-5.0">9</tspan></text>
<text x="54.20" y="307.67" font-family="Liberation Serif, serif" font-size="14.4" text-anchor="end">10<tspan font-size="10.2" dy="-5.0">−1</tspan></text>
<text x="54.20" y="209.20" font-family="Liberation Serif, serif" font-size="14.4" text-anchor="end">10<tspan font-size="10.2" dy="-5.0">0</tspan></text>
<text x="54.20" y="110.73" font-family="Liberation Serif, serif" font-size="14.4" text-anchor="end">10<tspan font-size="10.2" dy="-5.0">1</tspan></text>
<text x="54.20" y="12.26" font-family="Liberation Serif, serif" font-size="14.4" text-anchor="end">10<tspan font-size="10.2" dy="-5.0">2</tspan></text>
<text x="653.20" y="279.00" font-family="Liberation Serif, serif" font-size="14.4" text-anchor="start">10<tspan font-size="10.2" dy="-5.0">0</tspan></text>
<text x="653.20" y="195.69" font-family="Liberation Serif, serif" font-size="14.4" text-anchor="start">10<tspan font-size="10.2" dy="-5.0">1</tspan></text>
<text x="653.20" y="112.89" font-family="Liberation Serif, serif" font-size="14.4" text-anchor="start">10<tspan font-size="10.2" dy="-5.0">2</tspan></text>
<text transform="translate(12.4,156.20) rotate(-90)" font-family="Liberation Serif, serif" font-size="14.2" font-weight="bold" text-anchor="middle" textLength="89" lengthAdjust="spacingAndGlyphs">redshift, <tspan font-style="italic">z</tspan></text>
<text x="292.8" y="346.5" font-family="Liberation Serif, serif" font-size="14.4" font-weight="bold" textLength="122" lengthAdjust="spacingAndGlyphs">mass, <tspan font-style="italic">M</tspan><tspan font-style="italic" font-size="10.5" dy="2.6">s</tspan><tspan dy="-1.2" font-size="18" font-weight="normal">[</tspan><tspan dy="-1.4" font-style="italic">M</tspan><tspan font-size="11.5" dy="3.4">⊙</tspan><tspan dy="-2.0" font-size="18" font-weight="normal">]</tspan></text>
<text transform="translate(698.0,153.50) rotate(-90)" font-family="Liberation Serif, serif" font-size="14.4" font-weight="bold" text-anchor="middle" textLength="66.5" lengthAdjust="spacingAndGlyphs"><tspan font-style="italic">d</tspan><tspan font-style="italic" font-size="10.5" dy="2.6">L</tspan><tspan dy="-1.2" font-size="18" font-weight="normal">[</tspan><tspan dy="-1.4">Gpc</tspan><tspan dy="1.4" font-size="18" font-weight="normal">]</tspan></text>
</svg>
</body></html>
